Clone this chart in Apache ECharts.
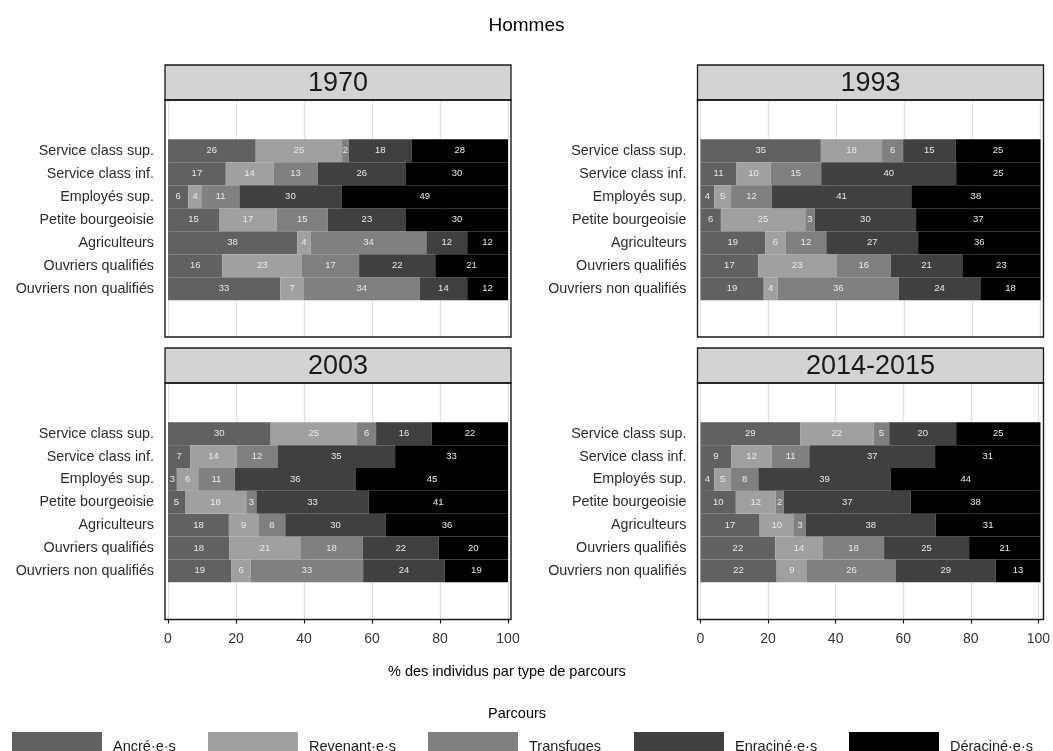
<!DOCTYPE html>
<html>
<head>
<meta charset="utf-8">
<script src="https://cdn.jsdelivr.net/npm/echarts@6/dist/echarts.min.js"></script>
<style>
html,body{margin:0;padding:0;background:#fff;}
#chart{width:1053px;height:751px;}
</style>
</head>
<body>
<div id="chart"></div>
<script>
const categories = ['Service class sup.','Service class inf.','Employés sup.','Petite bourgeoisie','Agriculteurs','Ouvriers qualifiés','Ouvriers non qualifiés'];
const parcours = ['Ancré·e·s','Revenant·e·s','Transfuges','Enraciné·e·s','Déraciné·e·s'];
const panels = ['1970','1993','2003','2014-2015'];
const xTicks = [0,20,40,60,80,100];

// values per panel, one array per parcours (rows in category order), %
const ancre_1970     = [25.8,17,6,15,38,16.0,33];
const revenant_1970  = [25.4,14,4,17,4,23.4,7];
const transfuges_1970= [2.0,13,11,15,34,16.8,34];
const enracine_1970  = [18.4,26,30,23,12,22.4,14];
const deracine_1970  = [28.4,30,49,30,12,21.4,12];

const ancre_1993     = [35.4,10.6,4,6.0,19,17,18.6];
const revenant_1993  = [18.0,10.0,5,24.8,6,23,4.1];
const transfuges_1993= [6.2,14.9,12,2.8,12,16,35.6];
const enracine_1993  = [15.4,39.7,41,29.8,27,21,24.0];
const deracine_1993  = [25.0,24.8,38,36.6,36,23,17.7];

const ancre_2003     = [30.2,6.6,2.6,5,17.9,18.1,18.7];
const revenant_2003  = [25.4,13.6,6.3,18,8.7,20.8,5.6];
const transfuges_2003= [5.6,12.0,10.7,3,7.9,18.4,33.1];
const enracine_2003  = [16.4,34.6,35.7,33,29.6,22.3,24.0];
const deracine_2003  = [22.4,33.2,44.7,41,35.9,20.4,18.6];

const ancre_2014     = [29.3,9,4,10.4,17.4,22,22.4];
const revenant_2014  = [21.6,12,5,11.7,10.1,14,8.9];
const transfuges_2014= [4.6,11,8,2.4,3.4,18,26.2];
const enracine_2014  = [19.7,37,39,37.3,38.3,25,29.3];
const deracine_2014  = [24.8,31,44,38.2,30.8,21,13.2];

const panelData = [
  [ancre_1970, revenant_1970, transfuges_1970, enracine_1970, deracine_1970],
  [ancre_1993, revenant_1993, transfuges_1993, enracine_1993, deracine_1993],
  [ancre_2003, revenant_2003, transfuges_2003, enracine_2003, deracine_2003],
  [ancre_2014, revenant_2014, transfuges_2014, enracine_2014, deracine_2014]
];

const colors = ['#616161','#a0a0a0','#808080','#404040','#000000'];
const FONT = 'Liberation Sans, Arial, sans-serif';

// layout
const cols = [{x0:168, frameL:165, frameR:511}, {x0:700.5, frameL:697.5, frameR:1043.5}];
const rows = [{stripTop:65, plotTop:100, plotBot:337, barTop:139.3, barBot:300.3},
              {stripTop:348, plotTop:383, plotBot:619.5, barTop:422.3, barBot:582.3}];
const PW = 340;

const grids = [], xAxes = [], yAxes = [], series = [], graphics = [];

panels.forEach((p, i) => {
  const c = cols[i % 2], r = rows[Math.floor(i / 2)];
  const bottomRow = i >= 2;
  // background grid (gridlines + x axis)
  grids.push({left: c.x0, top: r.plotTop, width: PW, height: r.plotBot - r.plotTop, containLabel: false});
  xAxes.push({
    gridIndex: 2*i, type: 'value', min: xTicks[0], max: xTicks[xTicks.length-1], interval: xTicks[1]-xTicks[0],
    axisLine: {show: false},
    axisTick: {show: bottomRow, length: 4, lineStyle: {color: '#1a1a1a', width: 1.2}},
    axisLabel: {show: bottomRow, fontSize: 14, color: '#333', margin: 13, fontFamily: FONT},
    splitLine: {show: true, lineStyle: {color: '#e0e0e0', width: 1.3}}
  });
  yAxes.push({gridIndex: 2*i, type: 'value', min: 0, max: 1, show: false});
  // bar grid
  grids.push({left: c.x0, top: r.barTop, width: PW, height: r.barBot - r.barTop, containLabel: false});
  xAxes.push({gridIndex: 2*i+1, type: 'value', min: 0, max: 100, show: false});
  yAxes.push({
    gridIndex: 2*i+1, type: 'category', data: categories, inverse: true,
    axisLine: {show: false}, axisTick: {show: false}, splitLine: {show: false},
    axisLabel: {fontSize: 14.3, color: '#2b2b2b', margin: 14, fontFamily: FONT}
  });
  panelData[i].forEach((vals, k) => {
    series.push({
      type: 'bar', name: parcours[k], stack: 'p' + i,
      xAxisIndex: 2*i+1, yAxisIndex: 2*i+1,
      data: vals, barWidth: '100%', barCategoryGap: '0%',
      itemStyle: {color: colors[k]},
      label: {show: true, position: 'inside', formatter: (d) => String(Math.round(d.value)),
              fontSize: 9.5, color: '#e8e8e8', fontFamily: FONT},
      emphasis: {disabled: true}, animation: false
    });
  });
  // strip
  graphics.push({
    type: 'rect', z: 100,
    shape: {x: c.frameL, y: r.stripTop, width: c.frameR - c.frameL, height: r.plotTop - r.stripTop},
    style: {fill: '#d3d3d3', stroke: '#1a1a1a', lineWidth: 1.3}
  });
  graphics.push({
    type: 'text', z: 101,
    x: (c.frameL + c.frameR) / 2, y: (r.stripTop + r.plotTop) / 2 + 1,
    style: {text: p, fontSize: 27, fill: '#1a1a1a', align: 'center', verticalAlign: 'middle', fontFamily: FONT}
  });
  // panel frame
  graphics.push({
    type: 'rect', z: 100,
    shape: {x: c.frameL, y: r.plotTop, width: c.frameR - c.frameL, height: r.plotBot - r.plotTop},
    style: {fill: null, stroke: '#1a1a1a', lineWidth: 1.4}
  });
});

const legendLefts = [7, 203, 423, 629, 844];
const legends = parcours.map((name, k) => ({
  data: [name], left: legendLefts[k], top: 727, orient: 'horizontal',
  itemWidth: 90, itemHeight: 30, icon: 'rect', selectedMode: false,
  textStyle: {fontSize: 14.5, color: '#1a1a1a', fontFamily: FONT, padding: [0,0,6,6]}
}));

const chart = echarts.init(document.getElementById('chart'), null, {renderer: 'canvas'});
chart.setOption({
  backgroundColor: '#ffffff',
  animation: false,
  title: [
    {text: 'Hommes', left: 'center', top: 11, textStyle: {fontSize: 19, fontWeight: 'normal', color: '#000', fontFamily: FONT}},
    {text: '% des individus par type de parcours', left: 383, top: 659, textStyle: {fontSize: 14.5, fontWeight: 'normal', color: '#000', fontFamily: FONT}},
    {text: 'Parcours', left: 483, top: 701, textStyle: {fontSize: 14.5, fontWeight: 'normal', color: '#000', fontFamily: FONT}}
  ],
  legend: legends,
  grid: grids,
  xAxis: xAxes,
  yAxis: yAxes,
  series: series,
  graphic: graphics
});
</script>
</body>
</html>
